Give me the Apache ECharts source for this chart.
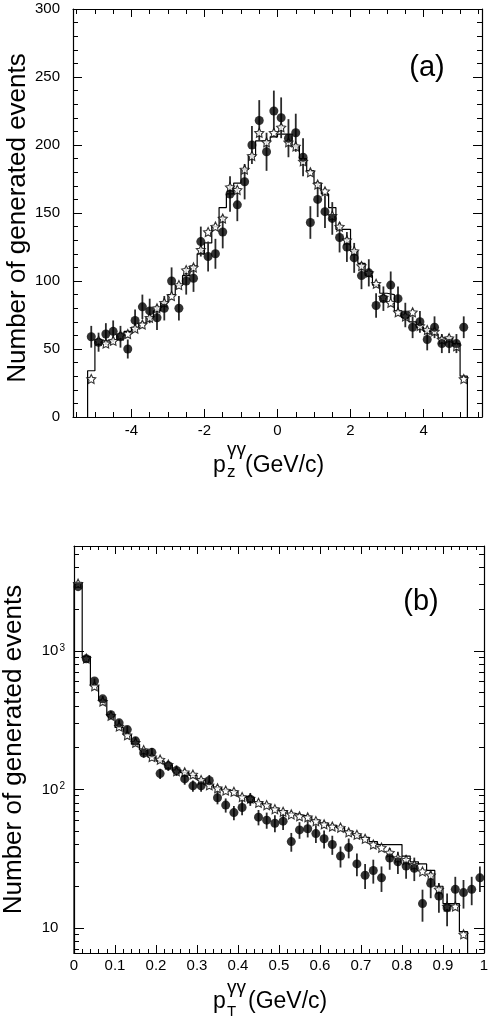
<!DOCTYPE html>
<html><head><meta charset="utf-8">
<script src="https://cdn.jsdelivr.net/npm/echarts@6/dist/echarts.min.js"></script>
<style>html,body{margin:0;padding:0;background:#fff}#c{width:491px;height:1021px}</style>
</head><body><div id="c"></div>
<script>
// ---------- panel (a): pz ----------
const pzBins = [-5.1,-4.9,-4.7,-4.5,-4.3,-4.1,-3.9,-3.7,-3.5,-3.3,-3.1,-2.9,-2.7,-2.5,-2.3,-2.1,-1.9,-1.7,-1.5,-1.3,-1.1,-0.9,-0.7,-0.5,-0.3,-0.1,0.1,0.3,0.5,0.7,0.9,1.1,1.3,1.5,1.7,1.9,2.1,2.3,2.5,2.7,2.9,3.1,3.3,3.5,3.7,3.9,4.1,4.3,4.5,4.7,4.9,5.1];
const pzHist = [34,56,56,57,60,63,66,69,73,78,84,90,97,104,111,120,128,140,154,164,172,182,192,203,203,206,208,208,199,190,181,172,164,154,138,138,122,113,104,97,91,90,78,73,70,66,63,61,58,58,54,30];
const pzStars = [28,56,54,56,60,61,65,68,73,80,84,89,97,108,110,123,136,140,146,169,167,182,192,209,202,209,213,202,199,188,180,171,166,148,140,130,122,111,106,98,88,84,77,74,77,67,64,63,57,58,52,28];
const pzDots = [59,55,61,63,59,50,71,81,78,73,80,100,80,100,102,129,118,120,136,164,156,173,200,218,195,225,220,205,209,191,143,160,151,146,132,125,117,104,106,82,87,97,87,75,66,70,57,66,54,54,54,66];
const pzErr = [8,7,8,8,8,7,8,9,9,9,9,10,9,10,10,11,11,11,12,13,12,13,14,15,14,15,15,14,14,14,12,13,12,12,11,11,11,10,10,9,9,10,9,9,8,8,8,8,7,7,7,8];
const pzBinWidth = 0.2;
const pzTickLabels = [-4,-2,0,2,4];
const pzMinorTicks = [-5.5,-5,-4.5,-3.5,-3,-2.5,-1.5,-1,-0.5,0.5,1,1.5,2.5,3,3.5,4.5,5,5.5];

// ---------- panel (b): pT ----------
const ptBins = [0.01,0.03,0.05,0.07,0.09,0.11,0.13,0.15,0.17,0.19,0.21,0.23,0.25,0.27,0.29,0.31,0.33,0.35,0.37,0.39,0.41,0.43,0.45,0.47,0.49,0.51,0.53,0.55,0.57,0.59,0.61,0.63,0.65,0.67,0.69,0.71,0.73,0.75,0.77,0.79,0.81,0.83,0.85,0.87,0.89,0.91,0.93,0.95,0.97,0.99];
const ptHist = [3100,910,560,438,342,280,248,212,193,171,160,150,137,132,126,117,108,103,99,96,89,87,81,78,73,70,67,65,63,60,57,55,53,50,47,45,42,40,40,40,33,30,29,26,20,15,15,9.4];
const ptStars = [3050,880,555,431,340,284,246,217,192,171,164,151,135,133,128,117,107,102,98,96,88,86,80,77,72,69,66,64,63,59,56,54,53,49,47,44,40,38,35,32,31,28.5,25.6,24,19,14.3,14.3,9];
const ptDots = [2900,875,605,450,346,302,270,224,183,185,130,148,137,119,106,106,116,87,77,68,74,85,63,60,57,59,42,51,52,48,44,40,33,38,29,24,26,23,32,30,28,27,15,21,17,14,19,18,19,23];
const ptErr = [54,30,25,21,19,17,16,15,14,14,11,12,12,11,10,10,11,9,9,8,9,9,8,8,8,8,6.5,7,7,7,6.6,6.3,5.7,6.2,5.4,4.9,5.1,4.8,5.7,5.5,5.3,5.2,3.9,4.6,4.1,3.7,4.4,4.2,4.4,4.8];
const ptBinWidth = 0.02;
const ptLogLabels = [10,100,1000];
const ptLogMinor = [7,8,9,20,30,40,50,60,70,80,90,200,300,400,500,600,700,800,900,2000,3000,4000,5000];

const FONT = 'Liberation Sans, Arial, Helvetica, sans-serif';
const INK = '#000';

function histLine(centers, values, w, floor) {
  const n = values.length;
  const pts = [[centers[0] - w / 2, floor]];
  for (let i = 0; i < n; i++) pts.push([centers[i] - w / 2, values[i]]);
  pts.push([centers[n - 1] + w / 2, values[n - 1]]);
  pts.push([centers[n - 1] + w / 2, floor]);
  return pts;
}
function pairs(xs, ys) { return ys.map((v, i) => [xs[i], v]); }
function errData(xs, ys, es) { return ys.map((v, i) => [xs[i], v - es[i], v + es[i]]); }

const starPath = 'path://M0,-10L2.94,-4.05L9.51,-3.09L4.76,1.55L5.88,8.09L0,5L-5.88,8.09L-4.76,1.55L-9.51,-3.09L-2.94,-4.05Z';

function baseAxis(extra) {
  return Object.assign({
    nameMoveOverlap: false,
    axisLine: { show: false, onZero: false, lineStyle: { color: INK, width: 1.2 } },
    axisTick: { show: true, inside: true, length: 5, lineStyle: { color: INK, width: 1 } },
    axisLabel: { show: false },
    splitLine: { show: false },
    minorTick: { show: false },
    minorSplitLine: { show: false }
  }, extra);
}

const xAxes = [
  baseAxis({ gridIndex: 0, type: 'value', position: 'bottom', min: -5.6, max: 5.6,
    axisLine: { show: true, onZero: false, lineStyle: { color: INK, width: 1.2 } },
    axisTick: { show: true, inside: true, length: 8, customValues: pzTickLabels, lineStyle: { color: INK } },
    axisLabel: { show: true, customValues: pzTickLabels, margin: 6, fontSize: 15, fontFamily: FONT, color: INK } }),
  baseAxis({ gridIndex: 0, type: 'value', position: 'bottom', min: -5.6, max: 5.6,
    axisTick: { show: true, inside: true, length: 5, customValues: pzMinorTicks, lineStyle: { color: INK } } }),
  baseAxis({ gridIndex: 0, type: 'value', position: 'top', min: -5.6, max: 5.6,
    axisLine: { show: true, onZero: false, lineStyle: { color: INK, width: 1.2 } },
    axisTick: { show: true, inside: true, length: 8, customValues: pzTickLabels, lineStyle: { color: INK } } }),
  baseAxis({ gridIndex: 0, type: 'value', position: 'top', min: -5.6, max: 5.6,
    axisTick: { show: true, inside: true, length: 5, customValues: pzMinorTicks, lineStyle: { color: INK } } }),
  baseAxis({ gridIndex: 1, type: 'value', position: 'bottom', min: 0, max: 1, interval: 0.1,
    axisLine: { show: true, onZero: false, lineStyle: { color: INK, width: 1.2 } },
    axisTick: { show: true, inside: true, length: 8, lineStyle: { color: INK } },
    minorTick: { show: true, splitNumber: 5, length: 4, lineStyle: { color: INK } },
    axisLabel: { show: true, margin: 5, fontSize: 15, fontFamily: FONT, color: INK,
      formatter: v => (v === 0 ? '0' : (Math.abs(v - 1) < 1e-9 ? '1' : v.toFixed(1))) } }),
  baseAxis({ gridIndex: 1, type: 'value', position: 'top', min: 0, max: 1, interval: 0.1,
    axisLine: { show: true, onZero: false, lineStyle: { color: INK, width: 1.2 } },
    axisTick: { show: true, inside: true, length: 8, lineStyle: { color: INK } },
    minorTick: { show: true, splitNumber: 5, length: 4, lineStyle: { color: INK } } })
];

const logFmt = v => {
  const e = Math.round(Math.log10(v));
  return e === 1 ? '{b|10}{s|\u2007}' : '{b|10}{s|' + e + '}';
};

const yAxes = [
  baseAxis({ gridIndex: 0, type: 'value', position: 'left', min: 0, max: 300, interval: 50,
    name: 'Number of generated events', nameLocation: 'middle', nameGap: 42, nameRotate: 90,
    nameTextStyle: { fontSize: 26, fontFamily: FONT, color: INK, padding: [0, 10, 0, 0] },
    axisLine: { show: true, onZero: false, lineStyle: { color: INK, width: 1.2 } },
    axisTick: { show: true, inside: true, length: 9, lineStyle: { color: INK } },
    minorTick: { show: true, splitNumber: 5, length: 5, lineStyle: { color: INK } },
    axisLabel: { show: true, margin: 13, fontSize: 15, fontFamily: FONT, color: INK } }),
  baseAxis({ gridIndex: 0, type: 'value', position: 'right', min: 0, max: 300, interval: 50,
    axisLine: { show: true, onZero: false, lineStyle: { color: INK, width: 1.2 } },
    axisTick: { show: true, inside: true, length: 9, lineStyle: { color: INK } },
    minorTick: { show: true, splitNumber: 5, length: 5, lineStyle: { color: INK } } }),
  baseAxis({ gridIndex: 1, type: 'log', logBase: 10, position: 'left', min: 6.6, max: 5700,
    name: 'Number of generated events', nameLocation: 'middle', nameGap: 47, nameRotate: 90,
    nameTextStyle: { fontSize: 26, fontFamily: FONT, color: INK },
    axisLine: { show: true, onZero: false, lineStyle: { color: INK, width: 1.2 } },
    axisTick: { show: true, inside: true, length: 10, customValues: ptLogLabels, lineStyle: { color: INK } },
    axisLabel: { show: true, customValues: ptLogLabels, margin: 9, formatter: logFmt,
      rich: { b: { fontSize: 15, fontFamily: FONT, color: INK },
              s: { fontSize: 10, fontFamily: FONT, color: INK, verticalAlign: 'top', padding: [0, 0, 6, 1] } } } }),
  baseAxis({ gridIndex: 1, type: 'log', logBase: 10, position: 'left', min: 6.6, max: 5700,
    axisTick: { show: true, inside: true, length: 5, customValues: ptLogMinor, lineStyle: { color: INK } } }),
  baseAxis({ gridIndex: 1, type: 'log', logBase: 10, position: 'right', min: 6.6, max: 5700,
    axisLine: { show: true, onZero: false, lineStyle: { color: INK, width: 1.2 } },
    axisTick: { show: true, inside: true, length: 10, customValues: ptLogLabels, lineStyle: { color: INK } } }),
  baseAxis({ gridIndex: 1, type: 'log', logBase: 10, position: 'right', min: 6.6, max: 5700,
    axisTick: { show: true, inside: true, length: 5, customValues: ptLogMinor, lineStyle: { color: INK } } })
];

function errSeries(xi, yi, data) {
  return {
    type: 'custom', xAxisIndex: xi, yAxisIndex: yi, z: 3, silent: true,
    data: data, encode: { x: 0, y: [1, 2] },
    renderItem: (params, api) => {
      const a = api.coord([api.value(0), api.value(1)]);
      const b = api.coord([api.value(0), api.value(2)]);
      return { type: 'line', shape: { x1: a[0], y1: a[1], x2: b[0], y2: b[1] },
        style: { stroke: '#2a2a2a', lineWidth: 1.8 } };
    }
  };
}

const series = [
  { type: 'line', xAxisIndex: 0, yAxisIndex: 0, step: 'end', symbol: 'none', z: 2,
    lineStyle: { color: INK, width: 1.2 }, data: histLine(pzBins, pzHist, pzBinWidth, 0) },
  { type: 'scatter', xAxisIndex: 0, yAxisIndex: 0, symbol: starPath, symbolSize: 9, z: 3,
    itemStyle: { color: '#fff', borderColor: INK, borderWidth: 1.1 }, data: pairs(pzBins, pzStars) },
  errSeries(0, 0, errData(pzBins, pzDots, pzErr)),
  { type: 'scatter', xAxisIndex: 0, yAxisIndex: 0, symbol: 'circle', symbolSize: 9, z: 4,
    itemStyle: { color: INK }, data: pairs(pzBins, pzDots) },

  { type: 'line', xAxisIndex: 4, yAxisIndex: 2, step: 'end', symbol: 'none', z: 2, clip: true,
    lineStyle: { color: INK, width: 1.2 }, data: histLine(ptBins, ptHist, ptBinWidth, 1) },
  { type: 'scatter', xAxisIndex: 4, yAxisIndex: 2, symbol: starPath, symbolSize: 9, z: 3,
    itemStyle: { color: '#fff', borderColor: INK, borderWidth: 1.1 }, data: pairs(ptBins, ptStars) },
  errSeries(4, 2, errData(ptBins, ptDots, ptErr)),
  { type: 'scatter', xAxisIndex: 4, yAxisIndex: 2, symbol: 'circle', symbolSize: 9, z: 4,
    itemStyle: { color: INK }, data: pairs(ptBins, ptDots) }
];

function txt(text, x, y, size, align) {
  return { type: 'text', x: x, y: y, silent: true,
    style: { text: text, font: size + 'px ' + FONT, fill: INK, align: align || 'left', verticalAlign: 'middle' } };
}

const graphic = [
  txt('(a)', 427, 68, 29, 'center'),
  txt('(b)', 421, 602, 29, 'center'),
  txt('p', 213, 474 - 0.3465 * 23, 23),
  txt('z', 227, 478 - 0.3465 * 17, 17),
  txt('\u03b3\u03b3', 227, 456 - 0.3465 * 19, 19),
  txt('(GeV/c)', 245, 474 - 0.3465 * 23, 23),
  txt('p', 213, 1010 - 0.3465 * 23, 23),
  txt('T', 227, 1017 - 0.3465 * 15, 15),
  txt('\u03b3\u03b3', 227, 994 - 0.3465 * 19, 19),
  txt('(GeV/c)', 248, 1010 - 0.3465 * 23, 23)
];

const chart = echarts.init(document.getElementById('c'), null, { renderer: 'canvas' });
chart.setOption({
  animation: false,
  backgroundColor: '#fff',
  grid: [
    { left: 73, top: 9, width: 409, height: 408, containLabel: false, outerBoundsMode: 'none' },
    { left: 74, top: 546, width: 410, height: 407, containLabel: false, outerBoundsMode: 'none' }
  ],
  xAxis: xAxes,
  yAxis: yAxes,
  series: series,
  graphic: graphic
});
</script></body></html>
